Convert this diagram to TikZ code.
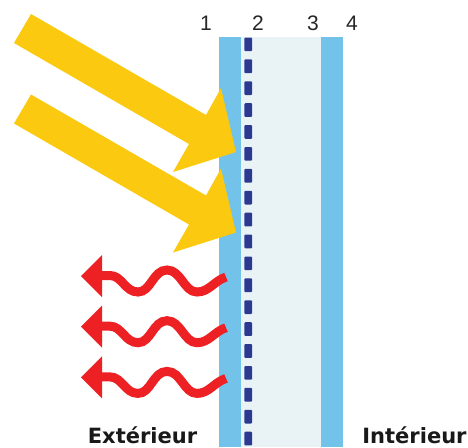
\documentclass[tikz,border=0pt]{standalone}
\usepackage{fontspec}
\setmainfont{Liberation Sans}
\newfontfamily\boldlabel{DejaVu Sans Bold}
\definecolor{panecol}{HTML}{73C2E9}
\definecolor{gapcol}{HTML}{E9F3F6}
\definecolor{dashcol}{HTML}{2B3990}
\definecolor{suncol}{HTML}{FBC90F}
\definecolor{heatcol}{HTML}{ED2024}
\tikzset{
  num/.style={anchor=base,inner sep=0pt,font=\fontsize{21}{21}\selectfont,text=black!85},
  side/.style={anchor=base,inner sep=0pt,font=\boldlabel\fontsize{21}{21}\selectfont,text=black!90},
  pane/.style={fill=panecol,draw=none},
  sun/.style={fill=suncol,draw=none},
  heat/.style={draw=heatcol,line width=9pt,line cap=butt},
  heathead/.style={fill=heatcol,draw=none}
}
\begin{document}
\begin{tikzpicture}[x=1pt,y=-1pt]
\useasboundingbox (0,0) rectangle (468,447);
\fill[white] (0,0) rectangle (468,447);
% glazing
\fill[gapcol] (241,37) rectangle (321,447);
\fill[pane] (219,37) rectangle (241,447);
\fill[pane] (321,37) rectangle (343,447);
% low-e coating, dashed
\foreach \k in {0,...,18}
  \fill[dashcol,rounded corners=1pt] (244.3,{37.5+21.9*\k}) rectangle (252.2,{37.5+21.9*\k+13.7});
% solar arrows
\foreach \d in {0,80.5}{
  \begin{scope}[yshift={-\d pt}]
  \fill[sun] (31,14) -- (206,115) -- (221,88) -- (236,152) -- (173,172) -- (189,144) -- (14,43) -- cycle;
  \end{scope}
}
% heat arrows
\foreach \d in {0,50.7,101.4}{
  \begin{scope}[yshift={-\d pt}]
  \draw[heat] (100,275.5) -- (110,275.5) .. controls (122,275.5) and (125,292) .. (138,292)
     .. controls (151,292) and (153,270) .. (167,270)
     .. controls (181,270) and (184,292) .. (197,292)
     .. controls (209,292) and (214,281) .. (226,277);
  \fill[heathead] (81,276) -- (102,255) -- (102,297) -- cycle;
  \end{scope}
}
% labels
\node[num] (n1) at (206,30.5) {1};
\node[num] (n2) at (258,30.5) {2};
\node[num] (n3) at (313,30.5) {3};
\node[num] (n4) at (352,30.5) {4};
\node[side] (ext) at (142.5,443) {Extérieur};
\node[side] (int) at (414.5,443) {Intérieur};
\end{tikzpicture}
\end{document}
